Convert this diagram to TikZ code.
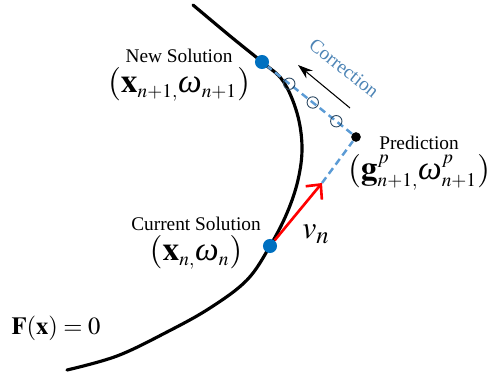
\documentclass[tikz,border=0pt]{standalone}
\usepackage{amsmath}
\usepackage{mathptmx}
\usepackage{fontspec}
\setmainfont{Liberation Serif}
\usepackage{xcolor}
\usetikzlibrary{arrows.meta, positioning, calc}

\definecolor{solblue}{RGB}{0,112,192}
\definecolor{dashblue}{RGB}{91,155,213}

\DeclareMathSizes{19}{19}{11}{8}
\DeclareMathSizes{18}{18}{14}{10}
\newcommand{\om}{\mbox{\itshape ω}}

\begin{document}
\begin{tikzpicture}[
  x=0.02cm, y=-0.02cm,
  sol/.style={circle, fill=solblue, inner sep=0pt, minimum size=8pt},
  pred/.style={circle, fill=black, inner sep=0pt, minimum size=5.5pt},
  hop/.style={circle, draw=black!55!dashblue, line width=0.5pt, inner sep=0pt, minimum size=6.5pt},
  lbl/.style={font=\fontsize{11}{13}\selectfont, inner sep=1pt},
  big/.style={font=\fontsize{19}{22}\selectfont, inner sep=1pt},
  corr/.style={-{Stealth[length=3mm, width=2mm]}, line width=0.6pt, draw=black},
  tang/.style={-{Straight Barb[length=2.2mm, width=4.2mm]}, line width=1.5pt, draw=red},
  guess/.style={dashed, dash pattern=on 4pt off 2.5pt, line width=1.4pt, draw=dashblue}
]
  \useasboundingbox (0,0) rectangle (489,377);

  % Solution curve
  \draw[line width=1.8pt, line cap=round] plot[smooth, tension=0.6] coordinates {
    (193,5) (230,36) (262,62) (283,81) (297,113) (302,147) (298,180)
    (287,213) (270,246) (247,280) (210,308) (167,332) (117,356) (67,370)};

  % Points
  \node[sol] (new) at (262,62) {};
  \node[sol] (cur) at (270,246) {};
  \node[pred] (pre) at (356,137) {};
  \coordinate (tip) at (322,183);

  % Predictor and corrector
  \draw[tang] (cur) -- (tip);
  \draw[guess] (tip) -- (pre);
  \draw[guess] (pre) -- (new);
  \foreach \t in {0.29,0.54,0.79}
    \node[hop] at ($(new)!\t!(pre)$) {};

  \coordinate (cs) at (350,108);
  \coordinate (ce) at (298,65);
  \draw[corr] (cs) -- (ce);
  \node[lbl, text=dashblue!85!black, rotate=-38.6] (corrlbl) at (344,68) {Correction};

  % Labels
  \node[big] (newxy) at (179,84) {$(\mathbf{x}_{n+1,}\om_{n+1})$};
  \node[lbl, above=0pt of newxy] (newlbl) {New Solution};
  \node[big] (prexy) at (419,172) {$(\mathbf{g}^{p}_{n+1,}\om^{p}_{n+1})$};
  \node[lbl, above=0pt of prexy] (prelbl) {Prediction};
  \node[big] (curxy) at (196,252) {$(\mathbf{x}_{n,}\om_{n})$};
  \node[lbl, above=0pt of curxy] (curlbl) {Current Solution};
  \node[big, font=\fontsize{18}{20}\selectfont] (vn) at (316,234) {$v_{n}$};
  \node[big, font=\fontsize{14}{17}\selectfont] (feq) at (56,328) {$\mathbf{F}(\mathbf{x}) = 0$};
\end{tikzpicture}
\end{document}
